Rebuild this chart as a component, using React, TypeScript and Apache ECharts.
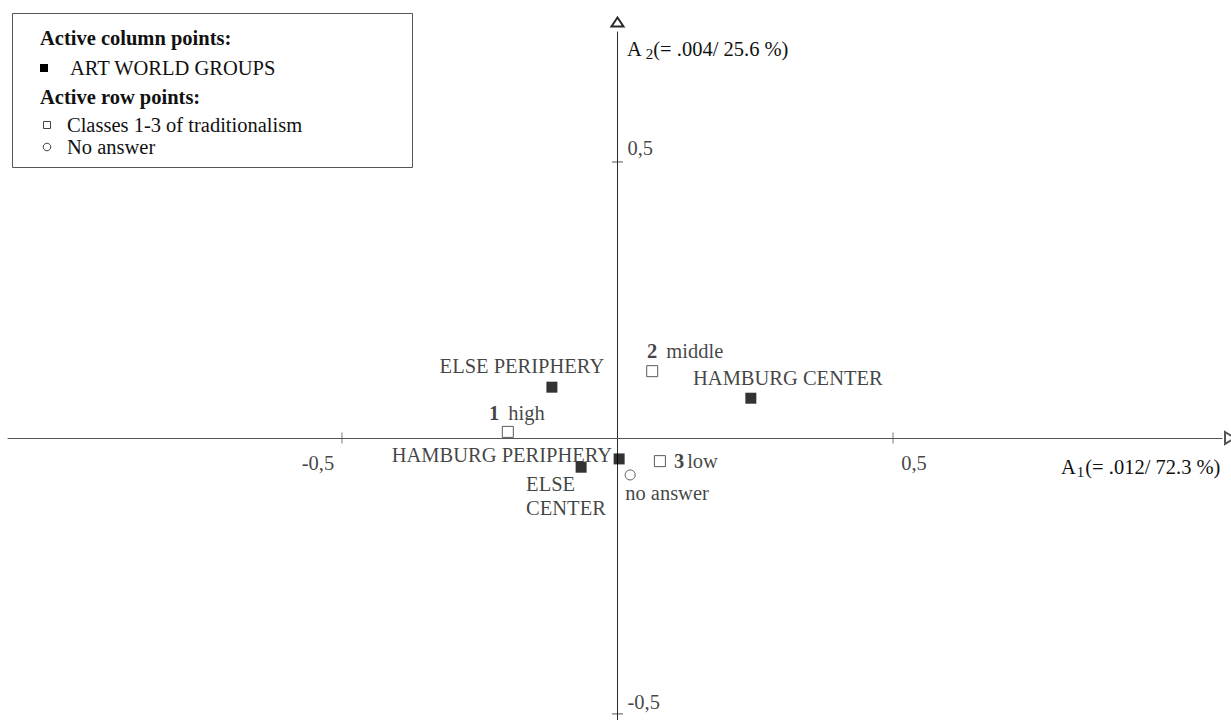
import React, { useEffect, useRef } from "react";
import * as echarts from "echarts";

const FONT = '"Liberation Serif", "Times New Roman", Times, serif';

// Active column points (art world groups)
const columnNames = ["ELSE PERIPHERY", "HAMBURG CENTER", "HAMBURG PERIPHERY", "ELSE\nCENTER"];
const columnX = [-0.119, 0.242, 0.003, -0.066];
const columnY = [0.092, 0.072, -0.038, -0.053];

// Active row points (classes of traditionalism)
const rowCodes = ["1", "2", "3"];
const rowNames = ["high", "middle", "low"];
const rowX = [-0.199, 0.063, 0.077];
const rowY = [0.011, 0.121, -0.042];

// No answer
const noAnswerNames = ["no answer"];
const noAnswerX = [0.023];
const noAnswerY = [-0.067];

// Axes
const tickValues = [-0.5, 0.5];
const tickLabels = ["-0,5", "0,5"];
const xRange = [-1.106, 1.097];
const yRange = [-0.511, 0.7355];
const xAxisName = ["A", "1", "(= .012/ 72.3 %)"];
const yAxisName = ["A", "2", "(= .004/ 25.6 %)"];

// Legend texts
const legendTexts = [
  "Active column points:",
  "ART WORLD GROUPS",
  "Active row points:",
  "Classes 1-3 of traditionalism",
  "No answer",
];

// label placement (layout only)
const columnLabelPlace: { offset: [number, number]; align: string }[] = [
  { offset: [-30, -21], align: "center" },
  { offset: [37, -20], align: "center" },
  { offset: [-7, -4], align: "right" },
  { offset: [-55, 29], align: "left" },
];
const rowLabelPlace: { offset: [number, number]; align: string; gap: number }[] = [
  { offset: [9, -19], align: "center", gap: 6 },
  { offset: [33, -20], align: "center", gap: 6 },
  { offset: [14, 0], align: "left", gap: 0 },
];
const noAnswerLabelPlace: { offset: [number, number]; align: string }[] = [
  { offset: [-5, 18], align: "left" },
];
const xTickLabelOffset: [number, number][] = [
  [-24, 25],
  [21, 25],
];
const yTickLabelOffset: [number, number][] = [
  [10, -12],
  [10, -14],
];

const INK = "#111";
const XAXIS = "#555";
const YAXIS = "#2a2a2a";
const FS = 20.5;

export default function App() {
  const ref = useRef<HTMLDivElement>(null);

  useEffect(() => {
    if (!ref.current) return;
    const chart = echarts.init(ref.current, null, { renderer: "svg" });

    const labelText = { fontFamily: FONT, fontSize: FS, color: INK, lineHeight: 24 };

    const option: any = {
      animation: false,
      backgroundColor: "#fff",
      textStyle: { fontFamily: FONT },
      grid: { left: 8, right: 9, top: 32, bottom: 0, containLabel: false, outerBoundsMode: "none" },
      xAxis: {
        type: "value",
        min: xRange[0],
        max: xRange[1],
        splitLine: { show: false },
        axisLine: {
          onZero: true,
          lineStyle: { color: XAXIS, width: 1 },
          symbol: ["none", "emptyTriangle"],
          symbolSize: [12, 10],
          symbolOffset: [0, 8],
        },
        axisTick: { show: false },
        axisLabel: { show: false },
      },
      yAxis: {
        type: "value",
        min: yRange[0],
        max: yRange[1],
        splitLine: { show: false },
        axisLine: {
          onZero: true,
          lineStyle: { color: YAXIS, width: 1 },
          symbol: ["none", "emptyTriangle"],
          symbolSize: [12, 9],
          symbolOffset: [0, 10],
        },
        axisTick: { show: false },
        axisLabel: { show: false },
      },
      series: [
        {
          name: "xticks",
          type: "scatter",
          silent: true,
          symbol: "rect",
          symbolSize: [1, 11],
          itemStyle: { color: XAXIS },
          z: 1,
          data: tickValues.map((v, i) => ({
            value: [v, 0],
            label: {
              show: true,
              position: "inside",
              formatter: tickLabels[i],
              offset: xTickLabelOffset[i],
              align: "center",
              verticalAlign: "middle",
              ...labelText,
            },
          })),
        },
        {
          name: "yticks",
          type: "scatter",
          silent: true,
          symbol: "rect",
          symbolSize: [11, 1],
          itemStyle: { color: YAXIS },
          z: 1,
          data: tickValues.map((v, i) => ({
            value: [0, v],
            label: {
              show: true,
              position: "inside",
              formatter: tickLabels[i],
              offset: yTickLabelOffset[i],
              align: "left",
              verticalAlign: "middle",
              ...labelText,
            },
          })),
        },
        {
          name: "ART WORLD GROUPS",
          type: "scatter",
          symbol: "rect",
          symbolSize: 11,
          itemStyle: { color: "#000" },
          z: 3,
          data: columnNames.map((n, i) => ({
            name: n,
            value: [columnX[i], columnY[i]],
            label: {
              show: true,
              position: "inside",
              formatter: n,
              offset: columnLabelPlace[i].offset,
              align: columnLabelPlace[i].align,
              verticalAlign: "middle",
              ...labelText,
            },
          })),
        },
        {
          name: "Classes 1-3 of traditionalism",
          type: "scatter",
          symbol: "rect",
          symbolSize: 11,
          itemStyle: { color: "#fff", borderColor: "#333", borderWidth: 1 },
          z: 3,
          data: rowNames.map((n, i) => ({
            name: n,
            value: [rowX[i], rowY[i]],
            label: {
              show: true,
              position: "inside",
              formatter: `{b|${rowCodes[i]}} {r|${n}}`,
              offset: rowLabelPlace[i].offset,
              align: rowLabelPlace[i].align,
              verticalAlign: "middle",
              rich: {
                b: { ...labelText, fontWeight: "bold" },
                r: { ...labelText, padding: [0, 0, 0, rowLabelPlace[i].gap] },
              },
            },
          })),
        },
        {
          name: "No answer",
          type: "scatter",
          symbol: "circle",
          symbolSize: 10,
          itemStyle: { color: "#fff", borderColor: "#333", borderWidth: 1 },
          z: 3,
          data: noAnswerNames.map((n, i) => ({
            name: n,
            value: [noAnswerX[i], noAnswerY[i]],
            label: {
              show: true,
              position: "inside",
              formatter: n,
              offset: noAnswerLabelPlace[i].offset,
              align: noAnswerLabelPlace[i].align,
              verticalAlign: "middle",
              ...labelText,
            },
          })),
        },
      ],
      graphic: [
        // axis names
        {
          type: "text",
          left: 627,
          top: 38,
          z: 10,
          style: {
            text: `{a|${yAxisName[0]}}{s|${yAxisName[1]}}{a|${yAxisName[2]}}`,
            rich: {
              a: { fontFamily: FONT, fontSize: FS, fill: INK, lineHeight: 26 },
              s: { fontFamily: FONT, fontSize: 15, fill: INK, lineHeight: 14, verticalAlign: "bottom", padding: [0, 0, 0, 4] },
            },
          },
        },
        {
          type: "text",
          left: 1061,
          top: 456,
          z: 10,
          style: {
            text: `{a|${xAxisName[0]}}{s|${xAxisName[1]}}{a|${xAxisName[2]}}`,
            rich: {
              a: { fontFamily: FONT, fontSize: FS, fill: INK, lineHeight: 26 },
              s: { fontFamily: FONT, fontSize: 15, fill: INK, lineHeight: 14, verticalAlign: "bottom", padding: [0, 1, 0, 1] },
            },
          },
        },
        // legend box
        {
          type: "group",
          z: 20,
          children: [
            {
              type: "rect",
              shape: { x: 12.5, y: 13.5, width: 400, height: 154 },
              style: { fill: "#fff", stroke: "#555", lineWidth: 1 },
            },
            {
              type: "text",
              x: 40,
              y: 38,
              style: { text: legendTexts[0], fontFamily: FONT, fontSize: FS, fontWeight: "bold", fill: INK, verticalAlign: "middle" },
            },
            {
              type: "rect",
              shape: { x: 40, y: 64, width: 8, height: 8 },
              style: { fill: "#000" },
            },
            {
              type: "text",
              x: 70,
              y: 68,
              style: { text: legendTexts[1], fontFamily: FONT, fontSize: FS, fill: INK, verticalAlign: "middle" },
            },
            {
              type: "text",
              x: 40,
              y: 97,
              style: { text: legendTexts[2], fontFamily: FONT, fontSize: FS, fontWeight: "bold", fill: INK, verticalAlign: "middle" },
            },
            {
              type: "rect",
              shape: { x: 43.5, y: 121.5, width: 7, height: 7 },
              style: { fill: "#fff", stroke: "#444", lineWidth: 1 },
            },
            {
              type: "text",
              x: 67,
              y: 125,
              style: { text: legendTexts[3], fontFamily: FONT, fontSize: FS, fill: INK, verticalAlign: "middle" },
            },
            {
              type: "circle",
              shape: { cx: 47, cy: 147, r: 3.8 },
              style: { fill: "#fff", stroke: "#444", lineWidth: 1 },
            },
            {
              type: "text",
              x: 67,
              y: 147,
              style: { text: legendTexts[4], fontFamily: FONT, fontSize: FS, fill: INK, verticalAlign: "middle" },
            },
          ],
        },
      ],
    };

    chart.setOption(option);
    return () => chart.dispose();
  }, []);

  return (
    <div
      ref={ref}
      style={{ position: "fixed", left: 0, top: 0, width: 1231, height: 720, background: "#fff" }}
    />
  );
}
